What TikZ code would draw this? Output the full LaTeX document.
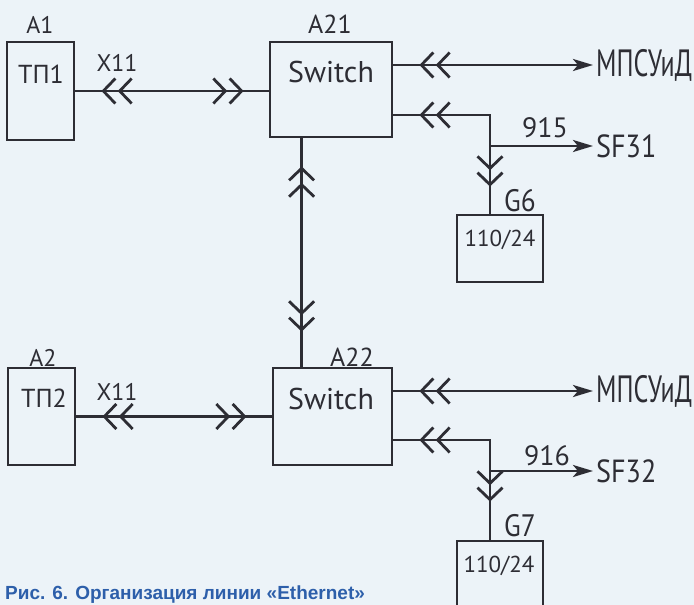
\documentclass[tikz,border=0pt]{standalone}
\usepackage{fontspec}
\newfontfamily\gost{PT Sans}
\newfontfamily\gostmid{PT Sans}[FakeStretch=0.88]
\newfontfamily\gostnarrow{PT Sans}[FakeStretch=0.68]
\newfontfamily\capfont{Liberation Sans}
\usepackage{xcolor}
\definecolor{ink}{RGB}{45,45,52}
\definecolor{paper}{RGB}{236,243,248}
\definecolor{capblue}{RGB}{45,95,170}
\usepackage{tikz}
\usetikzlibrary{arrows.meta,decorations.markings}
\tikzset{
  chev/.tip={Straight Barb[length=12pt,width=25pt,sep=1pt] Straight Barb[length=12pt,width=25pt]},
  wire/.style={draw=ink, line width=2.8pt},
  box/.style={draw=ink, line width=2.8pt, inner sep=0pt},
  lbl/.style={inner sep=0pt, text=ink, font=\gost\fontsize{#1}{#1}\selectfont},
  lbl/.default=26,
  mid/.style={inner sep=0pt, text=ink, font=\gostmid\fontsize{#1}{#1}\selectfont},
  back at/.style={postaction={decorate, decoration={markings, mark=at position #1 with {\arrowreversed{chev}}}}},
  fwd at/.style={postaction={decorate, decoration={markings, mark=at position #1 with {\arrow{chev}}}}},
  feed/.style={-{Stealth[length=20pt,width=12pt,inset=5pt]}}
}

\begin{document}
\begin{tikzpicture}[x=1pt,y=-1pt]
  % Paper
  \useasboundingbox (0,0) rectangle (694,605);
  \clip (0,0) rectangle (694,605);
  \fill[paper] (0,0) rectangle (694,605);

  % Upper unit
  \node[box, minimum width=67pt, minimum height=98pt] (tp1) at (40.5,91) {};
  \node[lbl=24] (a1) at (40,25) {A1};
  \node[lbl] (tp1t) at (41,74) {ТП1};
  \node[box, minimum width=122pt, minimum height=95pt] (sw1) at (331,89.5) {};
  \node[lbl] (a21) at (330,24) {A21};
  \node[lbl=30] (sw1t) at (331,72) {Switch};
  \node[lbl=24] (x11a) at (117,63) {X11};
  \node[box, minimum width=86pt, minimum height=67pt] (g6) at (500,248.5) {};
  \node[mid=31] (g6l) at (520,201) {G6};
  \node[lbl=23] (g6t) at (500,240) {110/24};
  \node[lbl=38, font=\gostnarrow\fontsize{38}{38}\selectfont, anchor=west, inner xsep=3pt] (mps1) at (593,65) {МПСУиД};
  \node[mid=32, anchor=west, inner xsep=3pt] (sf1) at (593,146) {SF31};
  \node[lbl=28] (n915) at (545,128) {915};
  \coordinate (j1) at (490,115);

  % Links of upper unit
  \draw[wire, back at=26pt, fwd at=-25pt] (tp1.east) -- (tp1.east -| sw1.west);
  \draw[wire, feed, back at=26pt] (sw1.east |- mps1.west) -- (mps1.west);
  \draw[wire, back at=26pt, fwd at=-27pt] (sw1.east |- j1) -- (j1) -- (j1 |- g6.north);
  \draw[wire, feed] (j1 |- sf1.west) -- (sf1.west);

  % Lower unit
  \node[box, minimum width=67pt, minimum height=97pt] (tp2) at (41.5,416.5) {};
  \node[lbl=24] (a2) at (43,358) {A2};
  \node[lbl] (tp2t) at (44,398) {ТП2};
  \node[box, minimum width=119pt, minimum height=97pt] (sw2) at (332.5,416.5) {};
  \node[lbl] (a22) at (352,357) {A22};
  \node[lbl=30] (sw2t) at (331,399) {Switch};
  \node[lbl=24] (x11b) at (117,392) {X11};
  \node[box, minimum width=86pt, minimum height=79pt] (g7) at (500,580.5) {};
  \node[mid=31] (g7l) at (520,526) {G7};
  \node[lbl=23] (g7t) at (499,566) {110/24};
  \node[lbl=38, font=\gostnarrow\fontsize{38}{38}\selectfont, anchor=west, inner xsep=3pt] (mps2) at (593,391) {МПСУиД};
  \node[mid=32, anchor=west, inner xsep=3pt] (sf2) at (593,471) {SF32};
  \node[lbl=28] (n916) at (547,456) {916};
  \coordinate (j2) at (490,440);

  % Links of lower unit
  \draw[wire, back at=26pt, fwd at=-25pt] (tp2.east) -- (tp2.east -| sw2.west);
  \draw[wire, feed, back at=26pt] (sw2.east |- mps2.west) -- (mps2.west);
  \draw[wire, back at=26pt, fwd at=-38pt] (sw2.east |- j2) -- (j2) -- (j2 |- g7.north);
  \draw[wire, feed] (j2 |- sf2.west) -- (sf2.west);

  % Switch to switch
  \coordinate (v1) at ([xshift=33pt]sw1.south west);
  \draw[wire, back at=28pt, fwd at=-35pt] (v1) -- (v1 |- sw2.north);

  % Caption
  \node[anchor=base west, inner sep=0pt, text=capblue, font=\capfont\bfseries\fontsize{19}{19}\selectfont] (cap) at (5,599) {Рис. 6. Организация линии «Ethernet»};
\end{tikzpicture}
\end{document}
